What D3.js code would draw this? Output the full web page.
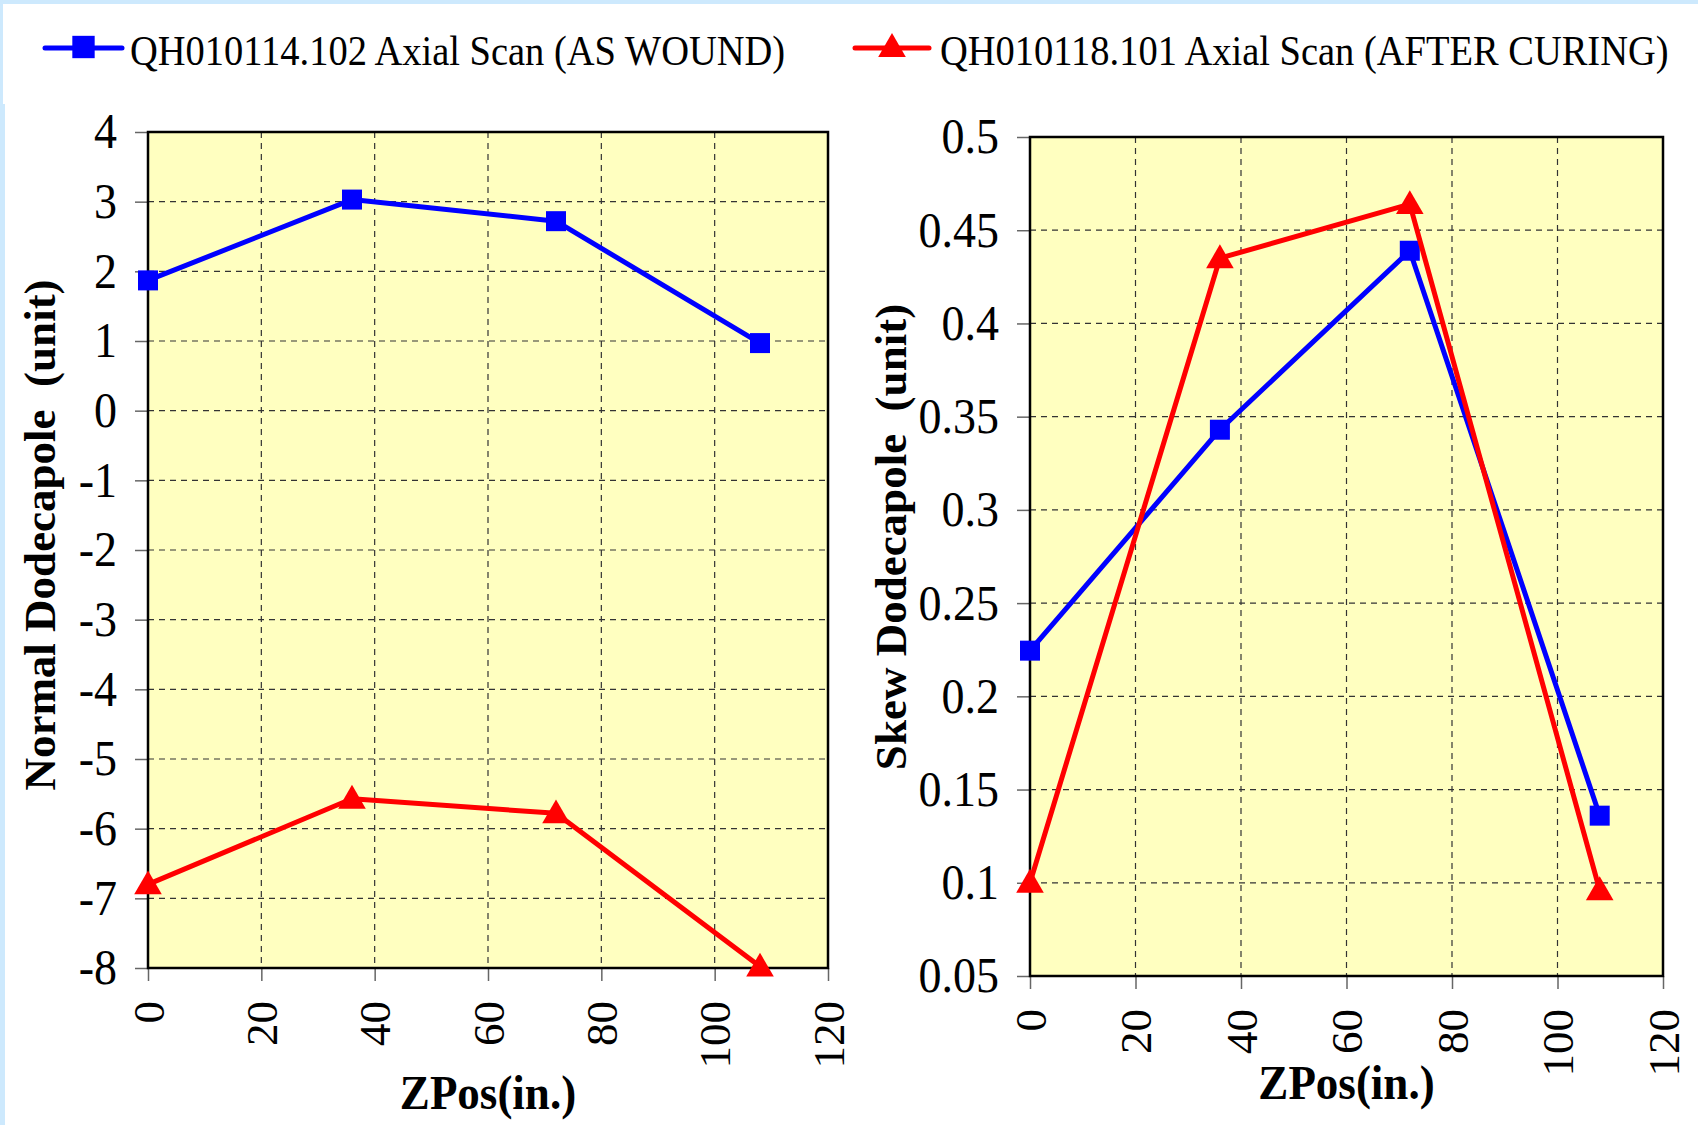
<!DOCTYPE html>
<html>
<head>
<meta charset="utf-8">
<script src="https://cdn.jsdelivr.net/npm/d3@7"></script>
<style>
  html, body { margin: 0; padding: 0; background: #ffffff; }
  svg { display: block; }
  text { font-family: "Liberation Serif", "Times New Roman", serif; fill: #000; }
</style>
</head>
<body>
<svg id="chart" width="1698" height="1125"></svg>
<script>
// ---- data ----
const zPos = [0, 36, 72, 108];
const seriesNames = ["QH010114.102 Axial Scan (AS WOUND)", "QH010118.101 Axial Scan (AFTER CURING)"];
const normalAsWound = [1.87, 3.03, 2.72, 0.97];
const normalAfterCuring = [-6.80, -5.57, -5.78, -7.98];
const skewAsWound = [0.2245, 0.343, 0.439, 0.136];
const skewAfterCuring = [0.100, 0.435, 0.464, 0.096];
const xTicks = [0, 20, 40, 60, 80, 100, 120];
const normalTicks = [4, 3, 2, 1, 0, -1, -2, -3, -4, -5, -6, -7, -8];
const skewTicks = [0.5, 0.45, 0.4, 0.35, 0.3, 0.25, 0.2, 0.15, 0.1, 0.05];
const xTitle = "ZPos(in.)";
const normalTitle = "Normal Dodecapole\u00a0\u00a0(unit)";
const skewTitle = "Skew Dodecapole\u00a0\u00a0(unit)";

const colors = ["#0000ff", "#ff0000"];

const svg = d3.select("#chart");

// page background / frame
svg.append("rect").attr("x", 0).attr("y", 0).attr("width", 1698).attr("height", 1125).attr("fill", "#cde9fd");
svg.append("rect").attr("x", 3).attr("y", 4).attr("width", 1695).attr("height", 100).attr("fill", "#ffffff");
svg.append("rect").attr("x", 5).attr("y", 103).attr("width", 1693).attr("height", 1022).attr("fill", "#ffffff");

const tri = d3.symbol().type(d3.symbolTriangle).size(330);
const sq = d3.symbol().type(d3.symbolSquare).size(400);
const triL = d3.symbol().type(d3.symbolTriangle).size(330);
const sqL = d3.symbol().type(d3.symbolSquare).size(500);

function drawMarker(g, type, x, y, color, legend) {
  if (type === 0) {
    g.append("path").attr("d", (legend ? sqL : sq)()).attr("transform", `translate(${x},${y})`).attr("fill", color);
  } else {
    g.append("path").attr("d", (legend ? triL : tri)()).attr("transform", `translate(${x},${y + 2})`).attr("fill", color);
  }
}

const fmtTick = d => String(+(+d).toFixed(2)).replace("\u2212", "-");
const VS = 1.08; // slight vertical stretch of horizontal text, as in the source image

function panel(opts) {
  const { x0, x1, y0, y1, yDomain, yTicks, series, yTitle, yTitleX, yTitleY, xTitleY, labelGap } = opts;
  const g = svg.append("g");
  const x = d3.scaleLinear().domain([0, 120]).range([x0, x1]);
  const y = d3.scaleLinear().domain(yDomain).range([y1, y0]);

  g.append("rect").attr("x", x0).attr("y", y0).attr("width", x1 - x0).attr("height", y1 - y0).attr("fill", "#ffffc0");

  // grid
  g.append("g").selectAll("line").data(xTicks.slice(1, -1)).join("line")
    .attr("x1", d => x(d)).attr("x2", d => x(d)).attr("y1", y0).attr("y2", y1)
    .attr("stroke", "#333").attr("stroke-width", 1.2).attr("stroke-dasharray", "6,5");
  g.append("g").selectAll("line").data(yTicks.slice(1, -1)).join("line")
    .attr("x1", x0).attr("x2", x1).attr("y1", d => y(d)).attr("y2", d => y(d))
    .attr("stroke", "#333").attr("stroke-width", 1.2).attr("stroke-dasharray", "6,5");

  // y axis
  const ya = d3.axisLeft(y).tickValues(yTicks).tickSize(13).tickPadding(labelGap).tickFormat(fmtTick);
  const yg = g.append("g").attr("transform", `translate(${x0},0)`).call(ya);
  yg.select(".domain").remove();
  yg.selectAll(".tick line").attr("stroke", "#666").attr("stroke-width", 1.5);
  yg.selectAll(".tick text").attr("font-size", 46).attr("font-family", "Liberation Serif").attr("fill", "#000")
    .attr("transform", `scale(1,${VS})`);

  // x axis
  const xa = d3.axisBottom(x).tickValues(xTicks).tickSize(13).tickFormat(fmtTick);
  const xg = g.append("g").attr("transform", `translate(0,${y1})`).call(xa);
  xg.select(".domain").remove();
  xg.selectAll(".tick line").attr("stroke", "#666").attr("stroke-width", 1.5);
  xg.selectAll(".tick text")
    .attr("font-size", 45).attr("font-family", "Liberation Serif").attr("fill", "#000")
    .attr("text-anchor", "end").attr("transform", "rotate(-90)")
    .attr("x", -33).attr("y", 0).attr("dy", "0.34em");

  // border
  g.append("rect").attr("x", x0).attr("y", y0).attr("width", x1 - x0).attr("height", y1 - y0)
    .attr("fill", "none").attr("stroke", "#000").attr("stroke-width", 2.5);

  // lines + markers
  const line = d3.line().x((d, i) => x(zPos[i])).y(d => y(d));
  series.forEach((vals, si) => {
    g.append("path").datum(vals).attr("d", line).attr("fill", "none")
      .attr("stroke", colors[si]).attr("stroke-width", 5).attr("stroke-linejoin", "round");
    vals.forEach((v, i) => drawMarker(g, si, x(zPos[i]), y(v), colors[si], false));
  });

  // titles
  g.append("text").attr("transform", `translate(${(x0 + x1) / 2},${xTitleY}) scale(1,${VS})`).attr("text-anchor", "middle")
    .attr("font-size", 45).attr("font-weight", "bold").text(xTitle);
  g.append("text").attr("transform", `translate(${yTitleX},${yTitleY}) rotate(-90)`).attr("text-anchor", "middle")
    .attr("font-size", 45).attr("font-weight", "bold").text(yTitle);
}

panel({
  x0: 148, x1: 828, y0: 132, y1: 968,
  yDomain: [-8, 4], yTicks: normalTicks,
  series: [normalAsWound, normalAfterCuring],
  yTitle: normalTitle, yTitleX: 55, yTitleY: 535, xTitleY: 1109, labelGap: 18
});
panel({
  x0: 1030, x1: 1663, y0: 137, y1: 976,
  yDomain: [0.05, 0.5], yTicks: skewTicks,
  series: [skewAsWound, skewAfterCuring],
  yTitle: skewTitle, yTitleX: 906, yTitleY: 537, xTitleY: 1099, labelGap: 18
});

// legend
const legend = svg.append("g");
const legendItems = [
  { lx0: 45, lx1: 122, tx: 130 },
  { lx0: 855, lx1: 929, tx: 940 }
];
legendItems.forEach((it, i) => {
  legend.append("line").attr("x1", it.lx0).attr("x2", it.lx1).attr("y1", 48).attr("y2", 48)
    .attr("stroke", colors[i]).attr("stroke-width", 5).attr("stroke-linecap", "round");
  drawMarker(legend, i, (it.lx0 + it.lx1) / 2, 47, colors[i], true);
  legend.append("text").attr("transform", `translate(${it.tx},65) scale(1,${VS})`)
    .attr("font-size", 38.5).text(seriesNames[i]);
});
</script>
</body>
</html>
